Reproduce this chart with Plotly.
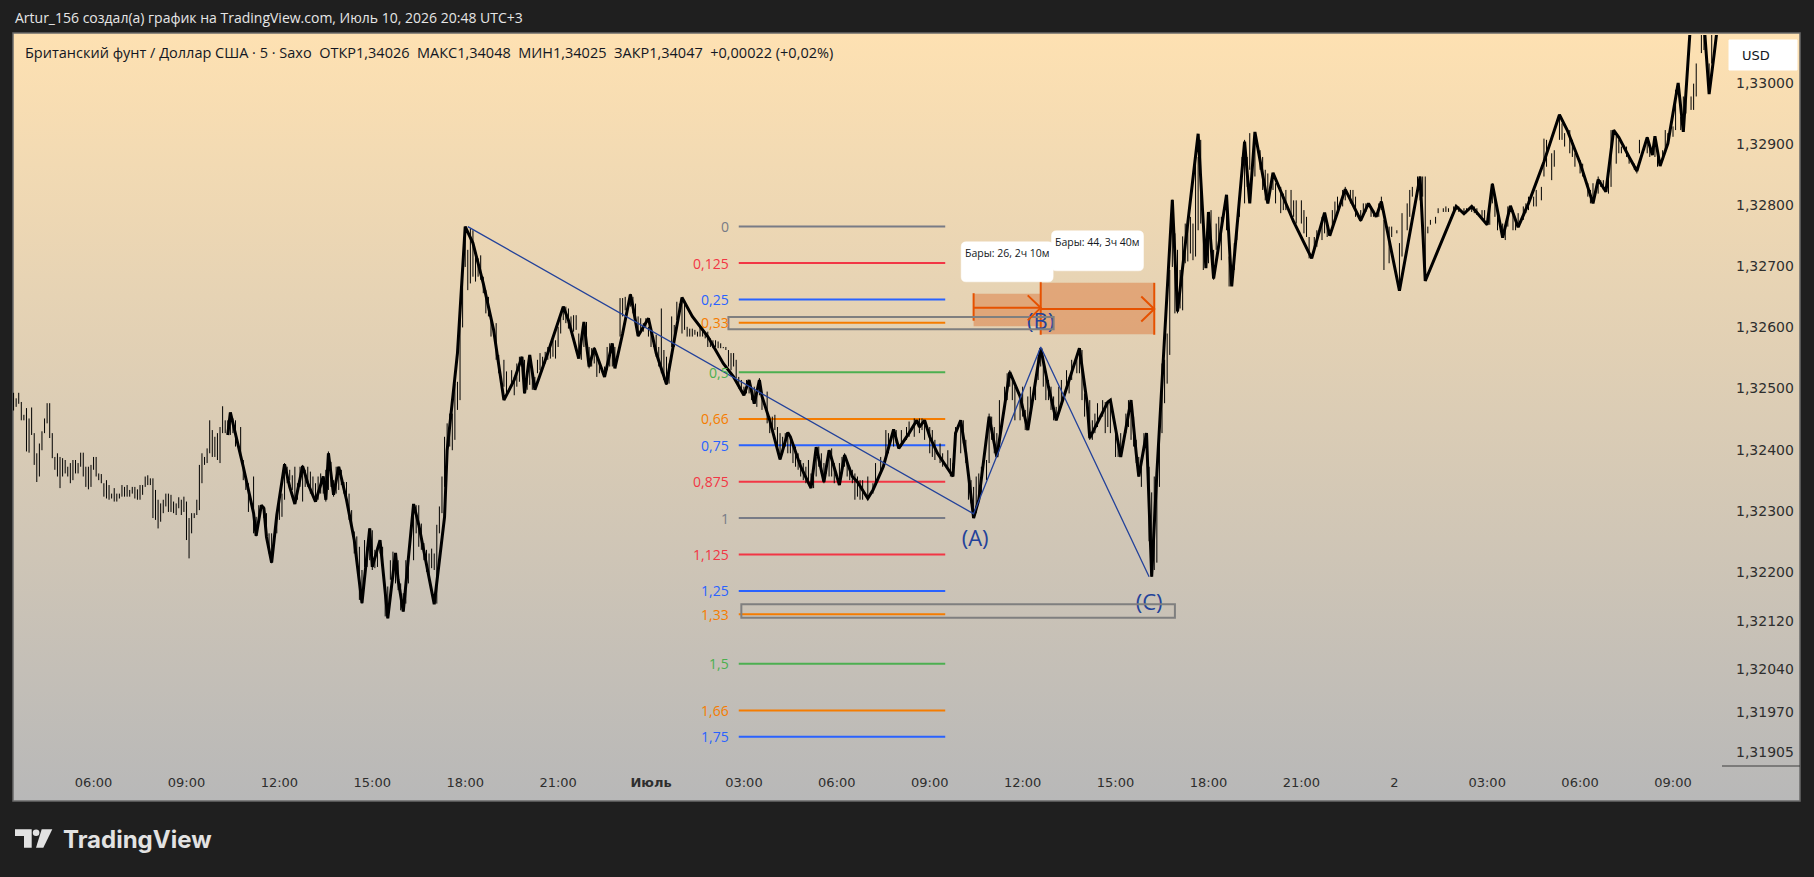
import base64
import plotly.graph_objects as go

# ---------------- DATA ----------------
# time = minutes from 1 July 00:00 (5-minute bars), price = GBP/USD
TIME_TICK_MIN = [-1080, -900, -720, -540, -360, -180, 0, 180, 360, 540, 720, 900,
                 1080, 1260, 1440, 1620, 1800, 1980]
TIME_TICK_TEXT = ["06:00", "09:00", "12:00", "15:00", "18:00", "21:00", "<b>Июль</b>",
                  "03:00", "06:00", "09:00", "12:00", "15:00", "18:00", "21:00", "2",
                  "03:00", "06:00", "09:00"]
PRICE_TICKS = [1.33, 1.329, 1.328, 1.327, 1.326, 1.325, 1.324, 1.323, 1.322,
               1.3212, 1.3204, 1.3197, 1.31905]
PRICE_TICK_TEXT = ["1,33000", "1,32900", "1,32800", "1,32700", "1,32600", "1,32500",
                   "1,32400", "1,32300", "1,32200", "1,32120", "1,32040", "1,31970",
                   "1,31905"]

# consecutive early bars (30 June morning)
BARS_A_START = -1235
BARS_A_HIGH = [1.32493, 1.32484, 1.32493, 1.32478, 1.32457, 1.32468, 1.32451, 1.32469, 1.32427, 1.32394,
               1.32410, 1.32430, 1.32451, 1.32476, 1.32476, 1.32427, 1.32388, 1.32394, 1.32388, 1.32386,
               1.32383, 1.32372, 1.32378, 1.32383, 1.32383, 1.32378, 1.32395, 1.32395, 1.32372, 1.32372,
               1.32375, 1.32388, 1.32388, 1.32361, 1.32360, 1.32345, 1.32350, 1.32342, 1.32328, 1.32337,
               1.32328, 1.32328, 1.32342, 1.32339, 1.32342, 1.32334, 1.32339, 1.32339, 1.32335, 1.32342,
               1.32342, 1.32356, 1.32358, 1.32353, 1.32353, 1.32334, 1.32318, 1.32312, 1.32318, 1.32328,
               1.32328, 1.32326, 1.32315, 1.32312, 1.32322, 1.32318, 1.32323, 1.32315, 1.32288, 1.32296,
               1.32296, 1.32318, 1.32375, 1.32394, 1.32388, 1.32402, 1.32448, 1.32432, 1.32421, 1.32427,
               1.32437, 1.32471, 1.32448, 1.32448, 1.32446]
BARS_A_LOW = [1.32464, 1.32470, 1.32475, 1.32448, 1.32448, 1.32397, 1.32395, 1.32424, 1.32375, 1.32347,
              1.32356, 1.32399, 1.32427, 1.32443, 1.32419, 1.32386, 1.32367, 1.32356, 1.32337, 1.32356,
              1.32361, 1.32356, 1.32345, 1.32350, 1.32361, 1.32361, 1.32372, 1.32356, 1.32339, 1.32335,
              1.32339, 1.32367, 1.32356, 1.32350, 1.32345, 1.32323, 1.32320, 1.32318, 1.32320, 1.32315,
              1.32315, 1.32320, 1.32323, 1.32323, 1.32323, 1.32323, 1.32328, 1.32320, 1.32318, 1.32318,
              1.32326, 1.32339, 1.32342, 1.32342, 1.32288, 1.32285, 1.32271, 1.32282, 1.32296, 1.32307,
              1.32298, 1.32298, 1.32296, 1.32293, 1.32304, 1.32293, 1.32298, 1.32252, 1.32222, 1.32263,
              1.32288, 1.32293, 1.32301, 1.32345, 1.32375, 1.32378, 1.32394, 1.32388, 1.32388, 1.32383,
              1.32378, 1.32427, 1.32427, 1.32424, 1.32424]

BARS_TIME = [-810, -805, -795, -790, -785, -780, -770, -765, -760, -750, -745, -740, -735, -725, -720,
             -715, -710, -705, -700, -695, -690, -685, -680, -675, -670, -665, -660, -655, -650, -645,
             -640, -635, -630, -625, -620, -615, -610, -605, -600, -595, -590, -585, -580, -575, -570,
             -565, -560, -555, -550, -545, -540, -535, -530, -525, -520, -515, -510, -505, -500, -495,
             -490, -485, -480, -475, -470, -460, -455, -450, -445, -440, -435, -430, -425, -420, -415,
             -410, -405, -400, -395, -390, -385, -380, -375, -370, -365, -360, -355, -350,
             -345, -340, -335, -330, -325, -320, -315, -310, -300, -295, -285, -280, -270, -265, -260,
             -255, -250, -245, -240, -235, -230, -225, -220, -215, -210, -205, -200, -195, -190, -185,
             -180, -175, -170, -165, -160, -155, -150, -145, -140, -135, -130, -125, -120, -115, -110,
             -105, -100, -90, -85, -80, -75, -70, -60, -55, -50, -40, -35, -30, -25, -20,
             -15, -10, -5, 0, 5, 10, 15, 20, 25, 30, 35, 40, 45, 50, 55,
             60, 65, 70, 75, 80, 85, 90, 95, 100, 105, 110, 115, 120, 125, 130,
             135, 140, 145, 150, 155, 160, 165, 170, 175, 180, 185, 190, 195, 200, 205,
             210, 215, 225, 230, 235, 240, 245, 250, 255, 260, 265, 270, 275, 280, 285,
             290, 295, 300, 305, 310, 315, 320, 325, 330, 335, 340, 345, 350, 355, 365,
             370, 375, 380, 385, 390, 395, 400, 405,
             410, 420, 430, 435, 445, 455, 460, 470, 475, 485, 495, 500, 510, 520, 525,
             530, 540, 545, 550, 560, 565, 575, 580, 585, 590, 600, 605, 610, 615, 620,
             625, 630, 635, 640, 650, 655, 660, 665, 670, 675, 685, 690, 695, 700, 705,
             715, 720, 725, 730, 735, 745, 750, 755, 760, 765, 770, 775, 780, 785, 790,
             795, 805, 810, 815, 825, 830, 835, 840, 850, 855, 860, 865, 875, 880, 885,
             890, 900, 905, 910, 920, 925, 930, 935, 940, 945, 950, 955, 960, 965, 970,
             975, 980, 985, 990, 995, 1000, 1005, 1010, 1015, 1020, 1025, 1030, 1035, 1040, 1045,
             1050, 1055, 1060, 1065, 1070, 1080, 1085, 1090, 1095, 1100, 1105, 1115, 1120, 1130, 1135,
             1140, 1145, 1150, 1155, 1160, 1170, 1180, 1185, 1190, 1195, 1205, 1210, 1220, 1225, 1230,
             1240, 1245, 1250, 1260, 1265, 1270, 1275, 1285, 1290, 1300, 1305, 1310, 1320, 1325, 1330,
             1340, 1345, 1355, 1360, 1365, 1375, 1380, 1385, 1395, 1400, 1410, 1415, 1420, 1430, 1435,
             1445, 1450, 1455, 1465, 1470, 1475, 1485, 1490, 1495, 1500, 1505, 1510, 1520, 1525, 1535,
             1540, 1545, 1555, 1560, 1565, 1575, 1580, 1590, 1595, 1600, 1610, 1615, 1625, 1630, 1635,
             1640, 1650, 1655, 1660, 1670, 1675, 1680, 1690, 1695, 1700, 1710, 1715, 1725, 1730, 1735,
             1745, 1750, 1760, 1765, 1770, 1780, 1785, 1790, 1800, 1805, 1815, 1820, 1825, 1835, 1840,
             1845, 1855, 1860, 1870, 1875, 1880, 1890, 1895, 1905, 1910, 1915, 1925, 1930, 1935, 1945,
             1950, 1960, 1965, 1970, 1980, 1985, 1995, 2000, 2005, 2015, 2020, 2025, 2035, 2040, 2050,
             2055]
BARS_HIGH = [1.32451, 1.32448, 1.32437, 1.32383, 1.32356, 1.32345, 1.32356, 1.32290, 1.32309, 1.32307, 1.32296, 1.32263, 1.32263, 1.32296, 1.32318,
             1.32328, 1.32378, 1.32372, 1.32367, 1.32358, 1.32372, 1.32345, 1.32372, 1.32375, 1.32367, 1.32372, 1.32364, 1.32356, 1.32345, 1.32356,
             1.32361, 1.32356, 1.32367, 1.32397, 1.32380, 1.32350, 1.32372, 1.32372, 1.32367, 1.32347, 1.32347, 1.32328, 1.32301, 1.32266, 1.32258,
             1.32241, 1.32203, 1.32252, 1.32241, 1.32271, 1.32268, 1.32236, 1.32241, 1.32252, 1.32241, 1.32176, 1.32176, 1.32219, 1.32233, 1.32230,
             1.32219, 1.32181, 1.32165, 1.32219, 1.32225, 1.32301, 1.32309, 1.32309, 1.32279, 1.32247, 1.32236, 1.32230, 1.32238, 1.32230, 1.32277,
             1.32307, 1.32356, 1.32421, 1.32443, 1.32459, 1.32459, 1.32508, 1.32511, 1.32628, 1.32700, 1.32765, 1.32727, 1.32762,
             1.32759, 1.32716, 1.32713, 1.32718, 1.32683, 1.32661, 1.32650, 1.32618, 1.32607, 1.32555, 1.32547, 1.32528, 1.32530, 1.32519, 1.32541,
             1.32552, 1.32552, 1.32547, 1.32525, 1.32555, 1.32530, 1.32519, 1.32547, 1.32558, 1.32552, 1.32560, 1.32568, 1.32574, 1.32579, 1.32579,
             1.32601, 1.32623, 1.32634, 1.32634, 1.32631, 1.32618, 1.32620, 1.32620, 1.32590, 1.32574, 1.32609, 1.32609, 1.32568, 1.32566, 1.32568,
             1.32552, 1.32547, 1.32536, 1.32568, 1.32574, 1.32555, 1.32568, 1.32648, 1.32648, 1.32650, 1.32655, 1.32650, 1.32639, 1.32618, 1.32615,
             1.32607, 1.32615, 1.32601, 1.32593, 1.32585, 1.32588, 1.32568, 1.32631, 1.32563, 1.32552, 1.32541, 1.32618, 1.32604, 1.32642, 1.32639,
             1.32648, 1.32645, 1.32601, 1.32598, 1.32598, 1.32596, 1.32593, 1.32601, 1.32598, 1.32590, 1.32593, 1.32582, 1.32579, 1.32579, 1.32577,
             1.32574, 1.32568, 1.32568, 1.32563, 1.32558, 1.32558, 1.32547, 1.32519, 1.32514, 1.32503, 1.32514, 1.32514, 1.32503, 1.32503, 1.32498,
             1.32517, 1.32487, 1.32495, 1.32454, 1.32454, 1.32457, 1.32437, 1.32427, 1.32421, 1.32427, 1.32427, 1.32421, 1.32410, 1.32405, 1.32394,
             1.32383, 1.32378, 1.32372, 1.32383, 1.32361, 1.32356, 1.32388, 1.32405, 1.32394, 1.32378, 1.32383, 1.32394, 1.32402, 1.32378, 1.32378,
             1.32388, 1.32394, 1.32383, 1.32372, 1.32367, 1.32361, 1.32356, 1.32350,
             1.32350, 1.32356, 1.32345, 1.32378, 1.32388, 1.32432, 1.32427, 1.32432, 1.32432, 1.32432, 1.32437, 1.32446, 1.32451, 1.32451, 1.32451,
             1.32446, 1.32437, 1.32432, 1.32416, 1.32410, 1.32394, 1.32399, 1.32386, 1.32378, 1.32437, 1.32448, 1.32448, 1.32416, 1.32361, 1.32350,
             1.32339, 1.32356, 1.32361, 1.32372, 1.32383, 1.32459, 1.32454, 1.32437, 1.32427, 1.32481, 1.32503, 1.32525, 1.32530, 1.32514, 1.32503,
             1.32487, 1.32503, 1.32465, 1.32487, 1.32503, 1.32519, 1.32552, 1.32566, 1.32547, 1.32525, 1.32514, 1.32503, 1.32487, 1.32470, 1.32503,
             1.32514, 1.32530, 1.32519, 1.32547, 1.32552, 1.32563, 1.32563, 1.32492, 1.32481, 1.32448, 1.32459, 1.32476, 1.32481, 1.32478, 1.32476,
             1.32481, 1.32427, 1.32416, 1.32427, 1.32459, 1.32481, 1.32481, 1.32454, 1.32416, 1.32388, 1.32383, 1.32427, 1.32427, 1.32372, 1.32330,
             1.32356, 1.32361, 1.32432, 1.32541, 1.32547, 1.32590, 1.32694, 1.32809, 1.32754, 1.32727, 1.32694, 1.32749, 1.32770, 1.32781, 1.32781,
             1.32770, 1.32868, 1.32879, 1.32907, 1.32765, 1.32759, 1.32792, 1.32727, 1.32770, 1.32781, 1.32781, 1.32814, 1.32716, 1.32738, 1.32765,
             1.32814, 1.32879, 1.32907, 1.32879, 1.32918, 1.32912, 1.32890, 1.32879, 1.32858, 1.32852, 1.32852, 1.32836, 1.32830, 1.32819, 1.32825,
             1.32825, 1.32808, 1.32808, 1.32808, 1.32792, 1.32781, 1.32748, 1.32748, 1.32759, 1.32781, 1.32787, 1.32770, 1.32792, 1.32806, 1.32814,
             1.32825, 1.32830, 1.32825, 1.32825, 1.32814, 1.32792, 1.32803, 1.32803, 1.32798, 1.32792, 1.32803, 1.32814, 1.32776, 1.32765, 1.32765,
             1.32759, 1.32738, 1.32787, 1.32803, 1.32825, 1.32830, 1.32847, 1.32847, 1.32847, 1.32847, 1.32765, 1.32776, 1.32781, 1.32795, 1.32795,
             1.32798, 1.32795, 1.32798, 1.32798, 1.32798, 1.32795, 1.32795, 1.32800, 1.32798, 1.32795, 1.32792, 1.32792, 1.32803, 1.32836, 1.32814,
             1.32792, 1.32770, 1.32765, 1.32798, 1.32792, 1.32776, 1.32787, 1.32798, 1.32803, 1.32814, 1.32814, 1.32825, 1.32830, 1.32909, 1.32907,
             1.32885, 1.32890, 1.32948, 1.32934, 1.32918, 1.32923, 1.32907, 1.32885, 1.32874, 1.32868, 1.32836, 1.32825, 1.32836, 1.32847, 1.32841,
             1.32841, 1.32847, 1.32923, 1.32918, 1.32907, 1.32896, 1.32896, 1.32879, 1.32868, 1.32863, 1.32907, 1.32901, 1.32912, 1.32896, 1.32912,
             1.32885, 1.32890, 1.32923, 1.32918, 1.32929, 1.32989, 1.32945, 1.32978, 1.32972, 1.32978, 1.32999, 1.33032, 1.33081, 1.33081, 1.33032,
             1.33081]
BARS_LOW = [1.32427, 1.32405, 1.32388, 1.32350, 1.32334, 1.32298, 1.32263, 1.32258, 1.32285, 1.32288, 1.32263, 1.32230, 1.32214, 1.32263, 1.32285,
            1.32290, 1.32318, 1.32345, 1.32350, 1.32334, 1.32312, 1.32318, 1.32339, 1.32315, 1.32339, 1.32339, 1.32328, 1.32323, 1.32315, 1.32318,
            1.32328, 1.32328, 1.32315, 1.32334, 1.32339, 1.32323, 1.32328, 1.32334, 1.32342, 1.32328, 1.32318, 1.32285, 1.32274, 1.32230, 1.32208,
            1.32154, 1.32148, 1.32208, 1.32208, 1.32219, 1.32203, 1.32206, 1.32208, 1.32230, 1.32203, 1.32127, 1.32124, 1.32187, 1.32192, 1.32181,
            1.32170, 1.32137, 1.32135, 1.32148, 1.32181, 1.32219, 1.32263, 1.32241, 1.32236, 1.32219, 1.32200, 1.32189, 1.32206, 1.32203, 1.32148,
            1.32263, 1.32296, 1.32339, 1.32383, 1.32405, 1.32399, 1.32416, 1.32465, 1.32481, 1.32600, 1.32699, 1.32661, 1.32672,
            1.32683, 1.32675, 1.32683, 1.32678, 1.32656, 1.32623, 1.32618, 1.32585, 1.32547, 1.32525, 1.32503, 1.32487, 1.32503, 1.32489, 1.32503,
            1.32511, 1.32536, 1.32492, 1.32498, 1.32506, 1.32498, 1.32500, 1.32525, 1.32530, 1.32536, 1.32541, 1.32547, 1.32549, 1.32552, 1.32549,
            1.32568, 1.32590, 1.32612, 1.32607, 1.32598, 1.32601, 1.32593, 1.32596, 1.32552, 1.32547, 1.32568, 1.32579, 1.32533, 1.32536, 1.32541,
            1.32519, 1.32525, 1.32519, 1.32530, 1.32536, 1.32536, 1.32536, 1.32585, 1.32618, 1.32628, 1.32634, 1.32623, 1.32609, 1.32585, 1.32596,
            1.32593, 1.32601, 1.32585, 1.32568, 1.32568, 1.32552, 1.32536, 1.32525, 1.32514, 1.32506, 1.32508, 1.32568, 1.32568, 1.32612, 1.32628,
            1.32590, 1.32596, 1.32585, 1.32585, 1.32585, 1.32588, 1.32585, 1.32585, 1.32585, 1.32582, 1.32568, 1.32568, 1.32566, 1.32568, 1.32566,
            1.32566, 1.32566, 1.32563, 1.32536, 1.32530, 1.32536, 1.32517, 1.32500, 1.32495, 1.32489, 1.32492, 1.32492, 1.32481, 1.32476, 1.32470,
            1.32489, 1.32465, 1.32443, 1.32427, 1.32432, 1.32432, 1.32405, 1.32383, 1.32394, 1.32405, 1.32394, 1.32394, 1.32378, 1.32372, 1.32367,
            1.32356, 1.32350, 1.32345, 1.32350, 1.32339, 1.32337, 1.32356, 1.32372, 1.32361, 1.32345, 1.32361, 1.32356, 1.32356, 1.32345, 1.32342,
            1.32361, 1.32372, 1.32356, 1.32350, 1.32345, 1.32318, 1.32323, 1.32318,
            1.32318, 1.32323, 1.32328, 1.32339, 1.32361, 1.32388, 1.32394, 1.32405, 1.32410, 1.32405, 1.32416, 1.32421, 1.32421, 1.32427, 1.32432,
            1.32416, 1.32394, 1.32388, 1.32383, 1.32378, 1.32372, 1.32367, 1.32356, 1.32356, 1.32405, 1.32394, 1.32410, 1.32378, 1.32318, 1.32312,
            1.32288, 1.32296, 1.32328, 1.32328, 1.32350, 1.32378, 1.32416, 1.32394, 1.32388, 1.32427, 1.32465, 1.32481, 1.32503, 1.32481, 1.32448,
            1.32448, 1.32454, 1.32432, 1.32432, 1.32465, 1.32481, 1.32514, 1.32536, 1.32503, 1.32481, 1.32481, 1.32465, 1.32448, 1.32448, 1.32459,
            1.32470, 1.32503, 1.32492, 1.32514, 1.32525, 1.32525, 1.32481, 1.32454, 1.32416, 1.32416, 1.32427, 1.32437, 1.32454, 1.32427, 1.32437,
            1.32427, 1.32388, 1.32388, 1.32394, 1.32427, 1.32437, 1.32416, 1.32405, 1.32378, 1.32356, 1.32339, 1.32399, 1.32383, 1.32250, 1.32192,
            1.32203, 1.32215, 1.32339, 1.32427, 1.32476, 1.32508, 1.32555, 1.32699, 1.32623, 1.32623, 1.32631, 1.32628, 1.32705, 1.32708, 1.32721,
            1.32710, 1.32716, 1.32759, 1.32770, 1.32694, 1.32705, 1.32738, 1.32678, 1.32727, 1.32738, 1.32710, 1.32759, 1.32667, 1.32694, 1.32743,
            1.32781, 1.32847, 1.32803, 1.32830, 1.32858, 1.32847, 1.32858, 1.32825, 1.32808, 1.32803, 1.32825, 1.32803, 1.32787, 1.32792, 1.32792,
            1.32781, 1.32781, 1.32770, 1.32770, 1.32754, 1.32748, 1.32713, 1.32727, 1.32732, 1.32743, 1.32754, 1.32748, 1.32765, 1.32776, 1.32787,
            1.32798, 1.32808, 1.32803, 1.32803, 1.32781, 1.32773, 1.32781, 1.32789, 1.32781, 1.32781, 1.32781, 1.32792, 1.32694, 1.32705, 1.32748,
            1.32754, 1.32660, 1.32716, 1.32759, 1.32781, 1.32814, 1.32814, 1.32808, 1.32814, 1.32678, 1.32754, 1.32768, 1.32770, 1.32787, 1.32789,
            1.32789, 1.32789, 1.32789, 1.32792, 1.32789, 1.32787, 1.32787, 1.32789, 1.32787, 1.32784, 1.32781, 1.32776, 1.32768, 1.32803, 1.32781,
            1.32759, 1.32748, 1.32743, 1.32765, 1.32759, 1.32759, 1.32770, 1.32776, 1.32787, 1.32792, 1.32798, 1.32798, 1.32808, 1.32847, 1.32863,
            1.32841, 1.32863, 1.32907, 1.32907, 1.32896, 1.32885, 1.32879, 1.32863, 1.32852, 1.32847, 1.32814, 1.32803, 1.32808, 1.32819, 1.32830,
            1.32825, 1.32819, 1.32830, 1.32868, 1.32885, 1.32885, 1.32879, 1.32868, 1.32858, 1.32852, 1.32885, 1.32890, 1.32885, 1.32879, 1.32879,
            1.32863, 1.32874, 1.32890, 1.32901, 1.32912, 1.32923, 1.32923, 1.32923, 1.32950, 1.32956, 1.32956, 1.32978, 1.33049, 1.33054, 1.32983,
            1.33032]

# hand-drawn thick path over the bars
PATH_TIME = [-820, -815, -790, -770, -765, -755, -750, -745, -735, -725, -710, -700, -690, -675, -665,
             -650, -635, -630, -625, -615, -605, -590, -575, -560, -545, -540, -525, -510, -495, -490,
             -480, -460, -450, -430, -420, -400, -395, -375, -360, -345, -325, -305, -285, -265, -250,
             -245, -235, -225, -200, -170, -160, -140, -130, -120, -110, -90, -75, -70, -55, -40,
             -35, -25, -5, 10, 30, 45, 60, 80, 110, 140, 160, 180, 190, 200, 210,
             215, 230, 250, 265, 270, 290, 310, 320, 335, 345, 365, 375, 390, 400, 420,
             430, 450, 470, 480, 500, 515, 520, 530, 540, 555, 585, 590, 600, 610, 620,
             625, 635, 655, 670, 695, 715, 730, 755, 770, 785, 800, 830, 845, 850, 885,
             890, 910, 930, 940, 945, 960, 970, 980, 995, 1010, 1020, 1060, 1075, 1080, 1090,
             1115, 1125, 1150, 1160, 1170, 1195, 1205, 1245, 1280, 1305, 1315, 1345, 1375, 1390, 1405,
             1415, 1450, 1490, 1500, 1560, 1575, 1590, 1620, 1630, 1650, 1665, 1680, 1700, 1730, 1760,
             1775, 1800, 1825, 1835, 1850, 1865, 1875, 1895, 1910, 1930, 1940, 1945, 1955, 1970, 1990,
             2000, 2015, 2040, 2050, 2060, 2070]
PATH_PRICE = [1.32424, 1.32461, 1.32372, 1.32296, 1.32259, 1.32309, 1.32304, 1.32257, 1.32215, 1.32293, 1.32376, 1.32339, 1.32311, 1.32373, 1.32345,
              1.32315, 1.32356, 1.32318, 1.32394, 1.32326, 1.32372, 1.32318, 1.32252, 1.32149, 1.32271, 1.32208, 1.32252, 1.32124, 1.32231, 1.32187,
              1.32135, 1.32311, 1.32277, 1.32192, 1.32147, 1.32290, 1.32399, 1.32558, 1.32765, 1.32738, 1.32672, 1.32596, 1.32481, 1.32514, 1.32552,
              1.32492, 1.32555, 1.32498, 1.32558, 1.32634, 1.32612, 1.32549, 1.32609, 1.32536, 1.32566, 1.32519, 1.32574, 1.32533, 1.32590, 1.32654,
              1.32634, 1.32586, 1.32615, 1.32558, 1.32507, 1.32579, 1.32649, 1.32618, 1.32585, 1.32541, 1.32519, 1.32489, 1.32514, 1.32475, 1.32514,
              1.32487, 1.32448, 1.32384, 1.32428, 1.32421, 1.32372, 1.32337, 1.32404, 1.32347, 1.32399, 1.32342, 1.32391, 1.32356, 1.32347, 1.32320,
              1.32334, 1.32372, 1.32433, 1.32402, 1.32427, 1.32448, 1.32437, 1.32448, 1.32421, 1.32394, 1.32356, 1.32427, 1.32448, 1.32394, 1.32328,
              1.32288, 1.32318, 1.32454, 1.32388, 1.32527, 1.32487, 1.32432, 1.32566, 1.32503, 1.32448, 1.32487, 1.32566, 1.32476, 1.32419, 1.32478,
              1.32481, 1.32388, 1.32481, 1.32394, 1.32356, 1.32427, 1.32192, 1.32361, 1.32590, 1.32809, 1.32626, 1.32917, 1.32697, 1.32789, 1.32680,
              1.32817, 1.32667, 1.32904, 1.32803, 1.32920, 1.32803, 1.32853, 1.32773, 1.32713, 1.32788, 1.32750, 1.32826, 1.32775, 1.32803, 1.32781,
              1.32806, 1.32660, 1.32847, 1.32676, 1.32798, 1.32786, 1.32798, 1.32768, 1.32835, 1.32747, 1.32799, 1.32764, 1.32803, 1.32871, 1.32948,
              1.32923, 1.32869, 1.32803, 1.32842, 1.32822, 1.32923, 1.32911, 1.32879, 1.32856, 1.32911, 1.32882, 1.32913, 1.32864, 1.32901, 1.33000,
              1.32920, 1.33110, 1.33100, 1.32982, 1.33049, 1.33120]

# Elliott A-B-C wave drawing
WAVE_TIME = [-355, 625, 755, 965]
WAVE_PRICE = [1.32765, 1.32295, 1.32568, 1.32192]
WAVE_LABELS = ["(A)", "(B)", "(C)"]
WAVE_LABEL_TIME = [628, 755, 965]
WAVE_LABEL_PRICE = [1.32252, 1.32607, 1.32147]

# Fibonacci extension drawing
FIB_HIGH = 1.32765
FIB_LOW = 1.32288
FIB_LEVELS = [0, 0.125, 0.25, 0.33, 0.5, 0.66, 0.75, 0.875, 1, 1.125, 1.25, 1.33, 1.5, 1.66, 1.75]
FIB_LABELS = ["0", "0,125", "0,25", "0,33", "0,5", "0,66", "0,75", "0,875", "1", "1,125",
              "1,25", "1,33", "1,5", "1,66", "1,75"]
FIB_TIME = [170, 570]

# date-range drawings
RANGE_TIME = [625, 755, 975]
RANGE_LOW = [1.32602, 1.32589]
RANGE_HIGH = [1.32655, 1.32673]
RANGE_ARROW = [1.32632, 1.32630]
RANGE_EDGE_LOW = [1.32611, 1.32588, 1.32588]
RANGE_EDGE_HIGH = [1.32656, 1.32675, 1.32673]
RANGE_TEXT = ["Бары: 26, 2ч 10м", "Бары: 44, 3ч 40м"]

# gray rectangles
BOX_TIME = [[150, 780], [175, 1015]]
BOX_PRICE = [[1.32597, 1.32617], [1.32125, 1.32147]]

TITLE = "Artur_156 создал(а) график на TradingView.com, Июль 10, 2026 20:48 UTC+3"
LEGEND = ("Британский фунт / Доллар США · 5 · Saxo\u00a0\u00a0ОТКР1,34026\u00a0\u00a0МАКС1,34048"
          "\u00a0\u00a0МИН1,34025\u00a0\u00a0ЗАКР1,34047\u00a0\u00a0+0,00022 (+0,02%)")

# ---------------- STYLE / LAYOUT ----------------
W, H = 1814, 877
PL, PR, PT, PB = 13, 1721, 35, 766
X_RANGE = [-1236.1, 2073.0]
Y_RANGE = [1.318822, 1.330786]
FIB_COLORS = ["#787b86", "#f23645", "#2962ff", "#f57c00", "#4caf50", "#f57c00", "#2962ff",
              "#f23645", "#787b86", "#f23645", "#2962ff", "#f57c00", "#4caf50", "#f57c00", "#2962ff"]
ORANGE = "#e65100"
WAVE_COLOR = "#23429a"


def X(px):
    return (px - PL) / (PR - PL)


def Y(py):
    return (PB - py) / (PB - PT)


fig = go.Figure()

# fib lines
for lvl, col in zip(FIB_LEVELS, FIB_COLORS):
    pr = FIB_HIGH - lvl * (FIB_HIGH - FIB_LOW)
    fig.add_trace(go.Scatter(x=FIB_TIME, y=[pr, pr], mode="lines",
                             line=dict(color=col, width=2), hoverinfo="skip"))

# bars
bx, by = [], []
for i, (h, l) in enumerate(zip(BARS_A_HIGH, BARS_A_LOW)):
    t = BARS_A_START + 5 * i
    bx += [t, t, None]
    by += [h, l, None]
for t, h, l in zip(BARS_TIME, BARS_HIGH, BARS_LOW):
    bx += [t, t, None]
    by += [h, l, None]
fig.add_trace(go.Scatter(x=bx, y=by, mode="lines", line=dict(color="#000000", width=1),
                         hoverinfo="skip", connectgaps=False))

# thick path
fig.add_trace(go.Scatter(x=PATH_TIME, y=PATH_PRICE, mode="lines",
                         line=dict(color="#000000", width=3), hoverinfo="skip"))

# wave
fig.add_trace(go.Scatter(x=WAVE_TIME, y=WAVE_PRICE, mode="lines",
                         line=dict(color=WAVE_COLOR, width=1.3), hoverinfo="skip"))

# date range arrows
for i in range(2):
    fig.add_trace(go.Scatter(x=[RANGE_TIME[i], RANGE_TIME[i + 1]], y=[RANGE_ARROW[i]] * 2,
                             mode="lines", line=dict(color=ORANGE, width=2), hoverinfo="skip"))
for t, lo, hi in zip(RANGE_TIME, RANGE_EDGE_LOW, RANGE_EDGE_HIGH):
    fig.add_trace(go.Scatter(x=[t, t], y=[lo, hi], mode="lines",
                             line=dict(color=ORANGE, width=2), hoverinfo="skip"))

# wave labels
fig.add_trace(go.Scatter(x=WAVE_LABEL_TIME, y=WAVE_LABEL_PRICE, mode="text", text=WAVE_LABELS,
                         textfont=dict(family="Open Sans", size=22, color=WAVE_COLOR),
                         textposition="middle center", hoverinfo="skip"))

# background gradient as an SVG image
gw, gh = 1787, 768
svg = ('<svg xmlns="http://www.w3.org/2000/svg" width="%d" height="%d" viewBox="0 0 %d %d" '
       'preserveAspectRatio="none"><defs><linearGradient id="g" x1="0" y1="0" x2="0" y2="1">'
       '<stop offset="0" stop-color="rgb(254,225,178)"/><stop offset="1" stop-color="rgb(184,184,184)"/>'
       '</linearGradient></defs><rect x="0" y="0" width="%d" height="%d" fill="url(#g)"/></svg>'
       % (gw, gh, gw, gh, gw, gh))
bg_src = "data:image/svg+xml;base64," + base64.b64encode(svg.encode("utf-8")).decode("ascii")
images = [dict(source=bg_src, xref="paper", yref="paper", x=X(13), y=Y(33),
               sizex=X(1800) - X(13), sizey=Y(33) - Y(801), xanchor="left", yanchor="top",
               sizing="stretch", layer="below")]

shapes = []
# chart frame
shapes.append(dict(type="rect", xref="paper", yref="paper", x0=X(13), x1=X(1800), y0=Y(801), y1=Y(33),
                   line=dict(color="#6a6a6a", width=1.5), fillcolor="rgba(0,0,0,0)", layer="below"))
shapes.append(dict(type="line", xref="paper", yref="paper", x0=X(1722), x1=X(1800), y0=Y(766), y1=Y(766),
                   line=dict(color="#3c3c3c", width=1)))

# gray boxes
for bt, bp in zip(BOX_TIME, BOX_PRICE):
    shapes.append(dict(type="rect", xref="x", yref="y", x0=bt[0], x1=bt[1], y0=bp[0], y1=bp[1],
                       line=dict(color="#7f7f7f", width=2), fillcolor="rgba(0,0,0,0)"))
# date-range fills
for i in range(2):
    shapes.append(dict(type="rect", xref="x", yref="y", x0=RANGE_TIME[i], x1=RANGE_TIME[i + 1],
                       y0=RANGE_LOW[i], y1=RANGE_HIGH[i], fillcolor="rgba(220,121,62,0.5)",
                       line=dict(width=0), layer="below"))
# arrow heads
for i in range(2):
    shapes.append(dict(type="path", xref="x", yref="y", xsizemode="pixel", ysizemode="pixel",
                       xanchor=RANGE_TIME[i + 1], yanchor=RANGE_ARROW[i],
                       path="M -13,12.5 L 0,0 L -13,-12.5", line=dict(color=ORANGE, width=2)))
# tooltip boxes
rr = "M -41,12 L 41,12 Q 46,12 46,17 L 46,47 Q 46,52 41,52 L -41,52 Q -46,52 -46,47 L -46,17 Q -46,12 -41,12 Z"
annotations = []
for i in range(2):
    mid = (RANGE_TIME[i] + RANGE_TIME[i + 1]) / 2
    shapes.append(dict(type="path", xref="x", yref="y", xsizemode="pixel", ysizemode="pixel",
                       xanchor=mid, yanchor=RANGE_HIGH[i], path=rr, fillcolor="#ffffff",
                       line=dict(color="#ffffff", width=0.5)))
    annotations.append(dict(x=mid, y=RANGE_HIGH[i], xref="x", yref="y", text=RANGE_TEXT[i],
                            showarrow=False, xanchor="center", yanchor="middle", yshift=41,
                            font=dict(family="Open Sans", size=10.5, color="#131722")))

# USD box
shapes.append(dict(type="path", xref="paper", yref="paper",
                   path="M %f,%f L %f,%f L %f,%f L %f,%f Z" % (X(1729), Y(40), X(1797), Y(40),
                                                               X(1797), Y(70), X(1729), Y(70)),
                   fillcolor="#ffffff", line=dict(color="#ffffff", width=1)))
annotations.append(dict(x=X(1740), y=Y(55), xref="paper", yref="paper", text="USD", showarrow=False,
                        xanchor="left", yanchor="middle",
                        font=dict(family="DejaVu Sans", size=13, color="#131722")))


# TradingView logo
def pth(pts):
    s = "M %f,%f " % (X(pts[0][0]), Y(pts[0][1]))
    for a, b in pts[1:]:
        s += "L %f,%f " % (X(a), Y(b))
    return s + "Z"


LOGO = "#e2e2e2"
shapes.append(dict(type="path", xref="paper", yref="paper",
                   path=pth([(15, 829.3), (31.7, 829.3), (31.7, 847.7), (24, 847.7), (24, 836), (15, 836)]),
                   fillcolor=LOGO, line=dict(width=0)))
shapes.append(dict(type="circle", xref="paper", yref="paper", x0=X(32.8), x1=X(39.4), y0=Y(836), y1=Y(829.4),
                   fillcolor=LOGO, line=dict(width=0)))
shapes.append(dict(type="path", xref="paper", yref="paper",
                   path=pth([(41.7, 829.3), (52.3, 829.3), (43.3, 847.7), (36, 847.7)]),
                   fillcolor=LOGO, line=dict(width=0)))
annotations.append(dict(x=X(61), y=Y(839), xref="paper", yref="paper", text="<b>TradingView</b>",
                        showarrow=False, xanchor="left", yanchor="middle",
                        font=dict(family="Inter", size=24, color=LOGO)))

# title + legend
annotations.append(dict(x=X(13), y=Y(18), xref="paper", yref="paper", text=TITLE, showarrow=False,
                        xanchor="left", yanchor="middle",
                        font=dict(family="Open Sans", size=14, color="#e6e6e6")))
annotations.append(dict(x=X(23), y=Y(53), xref="paper", yref="paper", text=LEGEND, showarrow=False,
                        xanchor="left", yanchor="middle",
                        font=dict(family="Open Sans", size=14.5, color="#131722")))

# fib labels
for lvl, lab, col in zip(FIB_LEVELS, FIB_LABELS, FIB_COLORS):
    pr = FIB_HIGH - lvl * (FIB_HIGH - FIB_LOW)
    annotations.append(dict(x=FIB_TIME[0], y=pr, xref="x", yref="y", text=lab, showarrow=False,
                            xanchor="right", yanchor="middle", xshift=-8,
                            font=dict(family="Open Sans", size=14, color=col)))

fig.update_layout(
    width=W, height=H,
    margin=dict(l=PL, r=W - PR, t=PT, b=H - PB, pad=0),
    paper_bgcolor="#1f1f1f", plot_bgcolor="rgba(0,0,0,0)",
    showlegend=False, shapes=shapes, annotations=annotations, images=images,
    xaxis=dict(range=X_RANGE, tickmode="array", tickvals=TIME_TICK_MIN, ticktext=TIME_TICK_TEXT,
               showgrid=False, zeroline=False, showline=False, ticks="", ticklabelstandoff=7,
               tickfont=dict(family="DejaVu Sans", size=13, color="#2e2e2e")),
    yaxis=dict(range=Y_RANGE, side="right", tickmode="array", tickvals=PRICE_TICKS,
               ticktext=PRICE_TICK_TEXT, showgrid=False, zeroline=False, showline=False, ticks="",
               ticklabelstandoff=14,
               tickfont=dict(family="DejaVu Sans", size=14, color="#2e2e2e")),
    hovermode=False,
)

fig.write_html("out.html", config={"displayModeBar": False},
               post_script="document.body.style.margin='0px';document.body.style.overflow='hidden';")
